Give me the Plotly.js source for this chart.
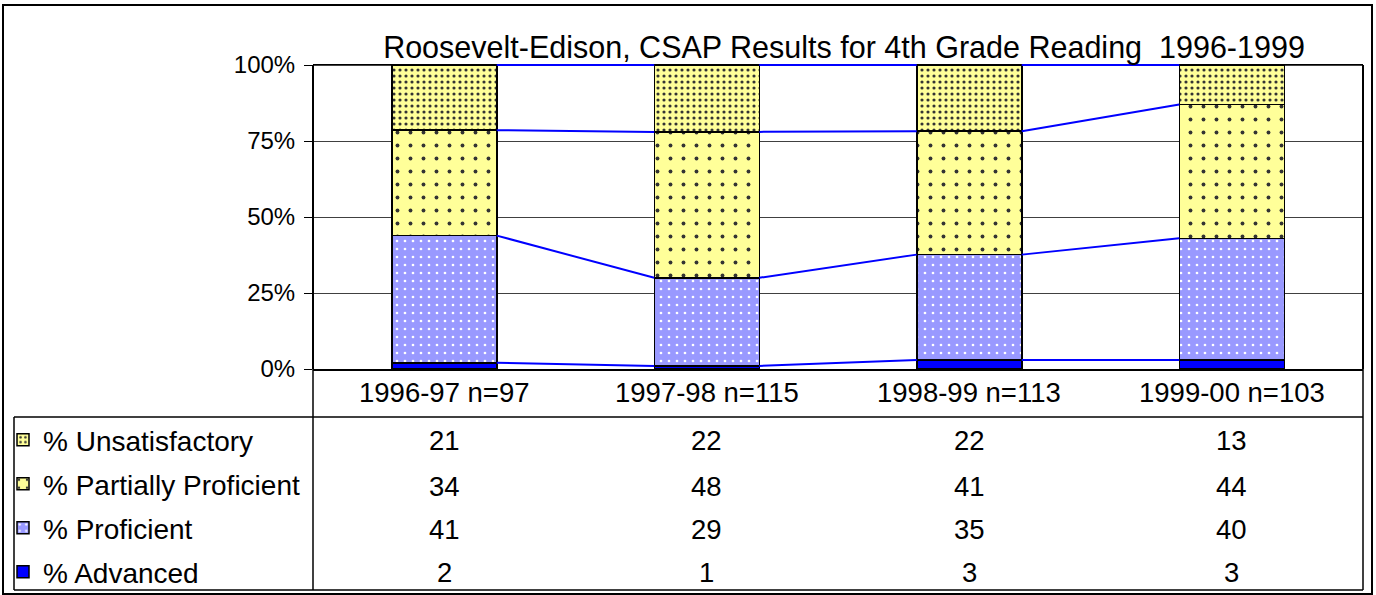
<!DOCTYPE html>
<html><head><meta charset="utf-8">
<script src="https://cdn.plot.ly/plotly-3.0.1.min.js"></script>
<style>html,body{margin:0;padding:0;background:#fff;} #chart{width:1376px;height:595px;}</style>
</head><body><div id="chart"></div>
<script>
// ---- data ----
const categories = ['1996-97 n=97', '1997-98 n=115', '1998-99 n=113', '1999-00 n=103'];
const seriesNames = ['% Advanced', '% Proficient', '% Partially Proficient', '% Unsatisfactory'];
const advanced = [2, 1, 3, 3];
const proficient = [41, 29, 35, 40];
const partiallyProficient = [34, 48, 41, 44];
const unsatisfactory = [21, 22, 22, 13];
const yTickVals = [0, 25, 50, 75, 100];
const yTickText = ['0%', '25%', '50%', '75%', '100%'];
const chartTitle = 'Roosevelt-Edison, CSAP Results for 4th Grade Reading\u00A0\u00A01996-1999';

// ---- styling ----
const FONT = 'Liberation Sans, Arial, sans-serif';
const W = 1376, H = 595;
const PL = 313, PR = 1363, PT = 65, PB = 369, PTOP = 61;
const Y_TOP = 100 * (PB - PTOP) / (PB - PT);
const BARW = 0.4;
const seriesData = [advanced, proficient, partiallyProficient, unsatisfactory];
const patterns = [
  {shape: '', bgcolor: '#0000FF'},
  {shape: '.', bgcolor: '#9999FF', fgcolor: '#FFFFFF', size: 8, solidity: 0.09},
  {shape: '.', bgcolor: '#FFFF99', fgcolor: '#333333', size: 13, solidity: 0.07},
  {shape: '.', bgcolor: '#FFFF99', fgcolor: '#333333', size: 6, solidity: 0.22}
];
const fills = ['#0000FF', '#9999FF', '#FFFF99', '#FFFF99'];
const ranks = [4, 3, 2, 1];

const xIdx = categories.map((c, i) => i);
const traces = [];
seriesData.forEach((vals, s) => {
  traces.push({
    type: 'bar', x: xIdx, y: vals, name: seriesNames[s], width: BARW,
    legendgroup: 'g' + s, legendrank: ranks[s],
    marker: {color: fills[s], line: {color: '#000', width: 1.5}, pattern: patterns[s]},
    hoverinfo: 'skip'
  });
});

// series lines: connect cumulative tops between bar edges
const totals = xIdx.map(i => seriesData.reduce((a, v) => a + v[i], 0));
const cum = xIdx.map(() => 0);
seriesData.forEach((vals, s) => {
  xIdx.forEach(i => { cum[i] += vals[i]; });
  const pct = xIdx.map(i => cum[i] / totals[i] * 100);
  const lx = [], ly = [];
  for (let i = 0; i < xIdx.length - 1; i++) {
    lx.push(xIdx[i] + BARW / 2, xIdx[i + 1] - BARW / 2, null);
    ly.push(pct[i], pct[i + 1], null);
  }
  traces.push({type: 'scatter', mode: 'lines', x: lx, y: ly, showlegend: false,
    line: {color: '#0000FF', width: 2}, hoverinfo: 'skip'});
});

// pixel -> paper helpers
const px = v => (v - PL) / (PR - PL);
const py = v => (PB - v) / (PB - PTOP);

const annotations = [];
// category labels row
xIdx.forEach(i => {
  annotations.push({xref: 'x', yref: 'paper', x: i, y: py(392), text: categories[i],
    showarrow: false, xanchor: 'center', yanchor: 'middle', font: {family: FONT, size: 27.5, color: '#000'}});
});
// data table rows
const rowY = [440, 486, 529, 572];
const rowSeries = [3, 2, 1, 0];
rowSeries.forEach((s, r) => {
  xIdx.forEach(i => {
    annotations.push({xref: 'x', yref: 'paper', x: i, y: py(rowY[r]), text: String(seriesData[s][i]),
      showarrow: false, xanchor: 'center', yanchor: 'middle', font: {family: FONT, size: 27.5, color: '#000'}});
  });
});

const ln = (x0, y0, x1, y1, w, c, layer) => ({type: 'line', xref: 'paper', yref: 'paper', layer: layer || 'above',
  x0: px(x0), y0: py(y0), x1: px(x1), y1: py(y1), line: {color: c || '#000', width: w || 1.5}});
const shapes = [
  // plot-area frame (top below traces so series line shows over it)
  {type: 'line', xref: 'paper', yref: 'y', x0: 0, x1: 1, y0: 100, y1: 100, layer: 'below', line: {color: '#000', width: 2}},
  {type: 'line', xref: 'paper', yref: 'y', x0: 0, x1: 0, y0: 0, y1: 100, line: {color: '#000', width: 2}},
  {type: 'line', xref: 'paper', yref: 'y', x0: 1, x1: 1, y0: 0, y1: 100, line: {color: '#000', width: 2}},
  ln(14, 417, PR, 417),
  ln(14, 590, PR, 590),
  ln(14, 417, 14, 590),
  ln(PL, PB, PL, 590),
  ln(PR, PB, PR, 590),
  {type: 'rect', xref: 'paper', yref: 'paper', x0: px(3), y0: py(5), x1: px(1372), y1: py(594),
    line: {color: '#000', width: 2}, layer: 'below'}
];

const layout = {
  width: W, height: H,
  margin: {l: PL, r: W - PR, t: PTOP, b: H - PB, autoexpand: false},
  paper_bgcolor: '#fff', plot_bgcolor: 'rgba(0,0,0,0)',
  barmode: 'stack', barnorm: 'percent',
  font: {family: FONT, color: '#000'},
  title: {text: chartTitle, x: 844 / W, xanchor: 'center', y: 1 - 47 / H, yanchor: 'middle',
    font: {family: FONT, size: 30.5, color: '#000'}},
  xaxis: {range: [-0.5, 3.5], tickvals: xIdx, showticklabels: false, ticks: '', showgrid: false,
    zeroline: false, showline: true, linecolor: '#000', linewidth: 2, mirror: false,
    layer: 'below traces', fixedrange: true},
  yaxis: {range: [0, Y_TOP], tickvals: yTickVals, ticktext: yTickText, ticks: 'outside', ticklen: 8,
    tickcolor: '#000', showgrid: true, gridcolor: '#404040', gridwidth: 1, zeroline: false,
    showline: false,
    tickfont: {family: FONT, size: 24, color: '#000'}, ticklabelstandoff: 4, fixedrange: true},
  showlegend: true,
  legend: {x: px(3), xanchor: 'left', y: py(415), yanchor: 'top', traceorder: 'grouped',
    tracegroupgap: 4.6, bgcolor: 'rgba(0,0,0,0)', borderwidth: 0,
    font: {family: FONT, size: 28, color: '#000'}},
  annotations: annotations,
  shapes: shapes
};

Plotly.newPlot('chart', traces, layout, {displayModeBar: false, staticPlot: true});
</script>
</body></html>
